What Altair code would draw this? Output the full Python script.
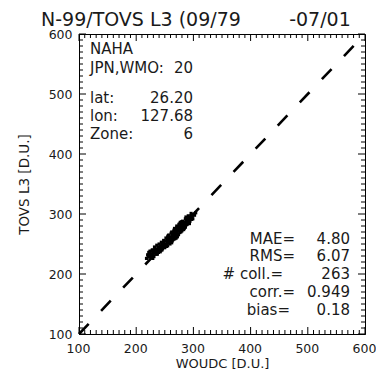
import altair as alt
import pandas as pd

# ---- data ----
woudc = [218, 220, 221, 222, 223, 224, 225, 226, 227, 228, 229, 230, 231, 232, 233, 234,
         235, 236, 237, 238, 239, 240, 241, 242, 243, 244, 245, 246, 247, 248, 249, 250,
         251, 252, 253, 254, 255, 256, 257, 258, 259, 260, 261, 262, 263, 264, 265, 266,
         267, 268, 269, 270, 271, 272, 273, 274, 275, 276, 277, 278, 279, 280, 281, 282,
         283, 284, 285, 286, 287, 288, 289, 290, 291, 292, 293, 294, 295, 296, 297, 298,
         300, 302, 304,
         258, 262, 266, 270, 274, 278, 282, 286, 290, 268, 272, 276, 280, 284, 288, 264,
         260, 254, 250, 246, 242, 238, 234, 230, 226, 270, 275, 280, 285, 279, 283, 277,
         273, 287, 291, 269, 265, 281, 289, 293,
         224, 228, 232, 236, 240, 244, 248, 252, 256, 261, 266, 271, 276, 281, 286, 291,
         296, 229, 237, 245, 253, 263, 273, 283, 293, 299, 257, 267, 277, 287,
         262, 271, 279, 284, 268, 275, 288, 255]
tovs = [226, 232, 228, 236, 230, 234, 229, 238, 233, 231, 240, 235, 229, 238, 242, 236,
        233, 241, 238, 245, 236, 243, 240, 247, 239, 244, 249, 242, 247, 251, 244, 250,
        246, 255, 249, 253, 247, 258, 252, 256, 250, 261, 255, 259, 264, 257, 262, 268,
        260, 265, 271, 263, 268, 274, 266, 272, 277, 269, 275, 280, 272, 278, 283, 275,
        281, 286, 279, 284, 289, 282, 287, 292, 285, 290, 295, 288, 293, 297, 291, 296,
        299, 298, 302,
        262, 252, 258, 274, 266, 270, 286, 278, 284, 259, 262, 280, 272, 276, 292, 268,
        254, 259, 244, 251, 237, 240, 240, 238, 232, 260, 282, 286, 282, 276, 278, 283,
        276, 284, 289, 266, 270, 279, 283, 287,
        238, 240, 245, 248, 250, 253, 256, 260, 264, 268, 273, 278, 283, 288, 292, 297,
        301, 226, 233, 240, 246, 255, 265, 274, 284, 292, 265, 276, 286, 295,
        270, 280, 287, 278, 275, 283, 285, 262]
one_to_one = [100, 600]
major_ticks = [100, 200, 300, 400, 500, 600]
minor_ticks = [v for v in range(110, 600, 10) if v % 100]

NB = "\u00a0"
title_text = "N-99/TOVS L3 (09/79" + NB * 8 + "-07/01"
station_labels = ["NAHA", "JPN,WMO:", "lat:", "lon:", "Zone:"]
station_values = ["", "20", "26.20", "127.68", "6"]
stats_labels = ["MAE=", "RMS=", "# coll.=", "corr.=", "bias="]
stats_values = ["4.80", "6.07", "263", "0.949", "0.18"]

# ---- layout / style ----
W, H = 286, 300
OX, OY = 79, 34          # page position of plot origin
FONT = "DejaVu Sans"
INK = "#1a1a1a"
MAJ, MIN = 7, 4

xs = alt.Scale(domain=[100, 600], nice=False, zero=False)
ys = alt.Scale(domain=[100, 600], nice=False, zero=False)
x_axis = alt.Axis(values=major_ticks, title="WOUDC [D.U.]", ticks=False, grid=False,
                  labelFlush=False, labelOverlap=False, labelOffset=-1,
                  labelPadding=8, titlePadding=3, labelFontSize=12.5, titleFontSize=13)
y_axis = alt.Axis(values=major_ticks, title="TOVS L3 [D.U.]", ticks=False, grid=False,
                  labelFlush=False, labelOverlap=False,
                  labelPadding=7, titlePadding=17, labelFontSize=12.5, titleFontSize=13.5)


def X(field):
    return alt.X(field, scale=xs, axis=x_axis)


def Y(field):
    return alt.Y(field, scale=ys, axis=y_axis)


pts = pd.DataFrame({"woudc": woudc, "tovs": tovs})
diag = pd.DataFrame({"woudc": one_to_one, "tovs": one_to_one})

points = alt.Chart(pts).mark_square(size=10, color="black", opacity=1).encode(
    x=X("woudc:Q"), y=Y("tovs:Q"))

line = alt.Chart(diag).mark_line(color="black", strokeWidth=2.6, strokeDash=[14, 18]).encode(
    x=X("woudc:Q"), y=Y("tovs:Q"))

layers = [points, line]

for ticks, L in ((major_ticks, MAJ), (minor_ticks, MIN)):
    df = pd.DataFrame({"v": ticks})
    layers.append(alt.Chart(df).mark_rule(color="black", strokeWidth=1).encode(
        x=X("v:Q"), y=alt.value(H), y2=alt.value(H - L)))
    layers.append(alt.Chart(df).mark_rule(color="black", strokeWidth=1).encode(
        x=X("v:Q"), y=alt.value(0), y2=alt.value(L)))
    layers.append(alt.Chart(df).mark_rule(color="black", strokeWidth=1).encode(
        y=Y("v:Q"), x=alt.value(0), x2=alt.value(L)))
    layers.append(alt.Chart(df).mark_rule(color="black", strokeWidth=1).encode(
        y=Y("v:Q"), x=alt.value(W), x2=alt.value(W - L)))


def txt(s, x, y, align="left", size=15):
    return alt.Chart(pd.DataFrame({"t": [s]})).mark_text(
        align=align, baseline="middle", font=FONT, fontSize=size, color=INK
    ).encode(text="t:N", x=alt.value(x - OX), y=alt.value(y - OY))


layers.append(txt(title_text, 41, 19.5, size=19))

station_y = [49, 68, 98, 116, 134]
for lab, val, yy in zip(station_labels, station_values, station_y):
    layers.append(txt(lab, 90, yy))
    if val:
        layers.append(txt(val, 193, yy, align="right"))

stats_y = [239, 256, 274, 292, 310]
stats_x = [295, 295, 283, 295, 290]
for lab, val, yy, xx in zip(stats_labels, stats_values, stats_y, stats_x):
    layers.append(txt(lab, xx, yy, align="right"))
    layers.append(txt(val, 350, yy, align="right"))

chart = alt.layer(*layers).properties(
    width=W, height=H,
    autosize=alt.AutoSizeParams(type="none"),
    padding={"left": OX - 8, "top": OY - 8, "right": 384 - 16 - (OX - 8) - W, "bottom": 39},
    background="white",
).configure_view(stroke="black", strokeWidth=1).configure_axis(
    domainColor="black", domainWidth=1, labelColor=INK, titleColor=INK,
    labelFont=FONT, titleFont=FONT, titleFontWeight="normal",
)

chart.save("out.html", embed_options={"renderer": "svg", "actions": False})
